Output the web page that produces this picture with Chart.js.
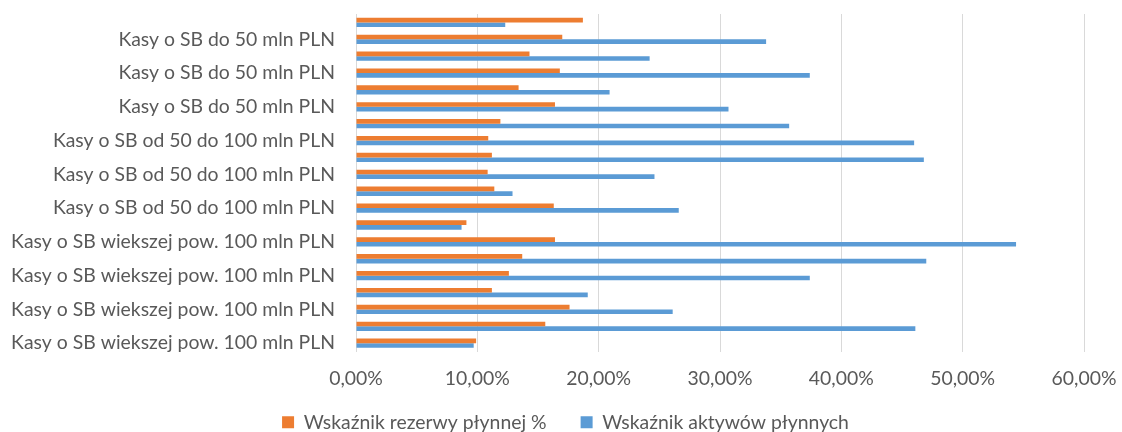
<!DOCTYPE html>
<html>
<head>
<meta charset="utf-8">
<script src="https://cdn.jsdelivr.net/npm/chart.js@4/dist/chart.umd.min.js"></script>
<style>
  html, body { margin: 0; padding: 0; background: #fff; }
  #wrap { width: 1122px; height: 432px; }
</style>
</head>
<body>
<div id="wrap"><canvas id="chart-bar"></canvas></div>
<script>
// Kategorie (od góry do dołu)
var categories = [
    "Kasy o SB do 50 mln PLN", "Kasy o SB do 50 mln PLN",
    "Kasy o SB do 50 mln PLN", "Kasy o SB do 50 mln PLN",
    "Kasy o SB do 50 mln PLN", "Kasy o SB do 50 mln PLN",
    "Kasy o SB od 50 do 100 mln PLN", "Kasy o SB od 50 do 100 mln PLN",
    "Kasy o SB od 50 do 100 mln PLN", "Kasy o SB od 50 do 100 mln PLN",
    "Kasy o SB od 50 do 100 mln PLN", "Kasy o SB od 50 do 100 mln PLN",
    "Kasy o SB wiekszej pow. 100 mln PLN", "Kasy o SB wiekszej pow. 100 mln PLN",
    "Kasy o SB wiekszej pow. 100 mln PLN", "Kasy o SB wiekszej pow. 100 mln PLN",
    "Kasy o SB wiekszej pow. 100 mln PLN", "Kasy o SB wiekszej pow. 100 mln PLN",
    "Kasy o SB wiekszej pow. 100 mln PLN", "Kasy o SB wiekszej pow. 100 mln PLN"
];

// Wskaźnik rezerwy płynnej % (w procentach)
var rezerwa = [18.7, 17.0, 14.3, 16.8, 13.4, 16.4, 11.9, 10.9, 11.2, 10.85,
               11.4, 16.3, 9.1, 16.4, 13.7, 12.6, 11.2, 17.6, 15.6, 9.9];

// Wskaźnik aktywów płynnych (w procentach)
var aktywa = [12.3, 33.8, 24.2, 37.4, 20.9, 30.7, 35.7, 46.0, 46.8, 24.6,
              12.9, 26.6, 8.7, 54.4, 47.0, 37.4, 19.1, 26.1, 46.1, 9.7];

var xTicks = [0, 10, 20, 30, 40, 50, 60];

var seriesNames = ["Wskaźnik rezerwy płynnej %", "Wskaźnik aktywów płynnych"];

document.addEventListener("DOMContentLoaded", function() {
    var ctx = document.getElementById("chart-bar");
    var fontFamily = "Lato, 'Noto Sans', sans-serif";
    var fontSize = 19.4;
    var textColor = "#595959";

    var data = {
        labels: categories,
        datasets: [{
            label: seriesNames[0],
            data: rezerwa,
            backgroundColor: "#ED7D31"
        }, {
            label: seriesNames[1],
            data: aktywa,
            backgroundColor: "#5B9BD5"
        }]
    };

    var options = {
        indexAxis: "y",
        responsive: true,
        maintainAspectRatio: false,
        animation: false,
        categoryPercentage: 0.55,
        barPercentage: 1.0,
        layout: {
            padding: { top: 14, right: 0, bottom: -10, left: 9 }
        },
        plugins: {
            legend: {
                position: "bottom",
                labels: {
                    boxWidth: 12,
                    boxHeight: 12,
                    padding: 34,
                    color: textColor,
                    font: { family: fontFamily, size: fontSize }
                }
            },
            tooltip: { enabled: false }
        },
        scales: {
            x: {
                min: 0,
                max: 60,
                afterBuildTicks: function(scale) {
                    scale.ticks = xTicks.map(function(v) { return { value: v }; });
                },
                afterFit: function(scale) {
                    scale.height = 27;
                    scale.paddingRight = 38;
                },
                grid: { color: "#D9D9D9", lineWidth: 1, drawTicks: false },
                border: { display: false },
                ticks: {
                    // etykiety pod osią bez przycinania
                    mirror: true,
                    padding: -39,
                    color: textColor,
                    font: { family: fontFamily, size: fontSize },
                    callback: function(v) { return v.toFixed(2).replace(".", ",") + "%"; }
                }
            },
            y: {
                afterFit: function(scale) { scale.width = 347; },
                grid: { display: false, drawTicks: true, tickLength: 21 },
                border: { display: false },
                ticks: {
                    autoSkip: false,
                    padding: 0,
                    color: textColor,
                    font: { family: fontFamily, size: fontSize },
                    callback: function(v, i) { return i % 2 === 1 ? categories[i] : ""; }
                }
            }
        }
    };

    new Chart(ctx, { type: "bar", data: data, options: options });
});
</script>
</body>
</html>
